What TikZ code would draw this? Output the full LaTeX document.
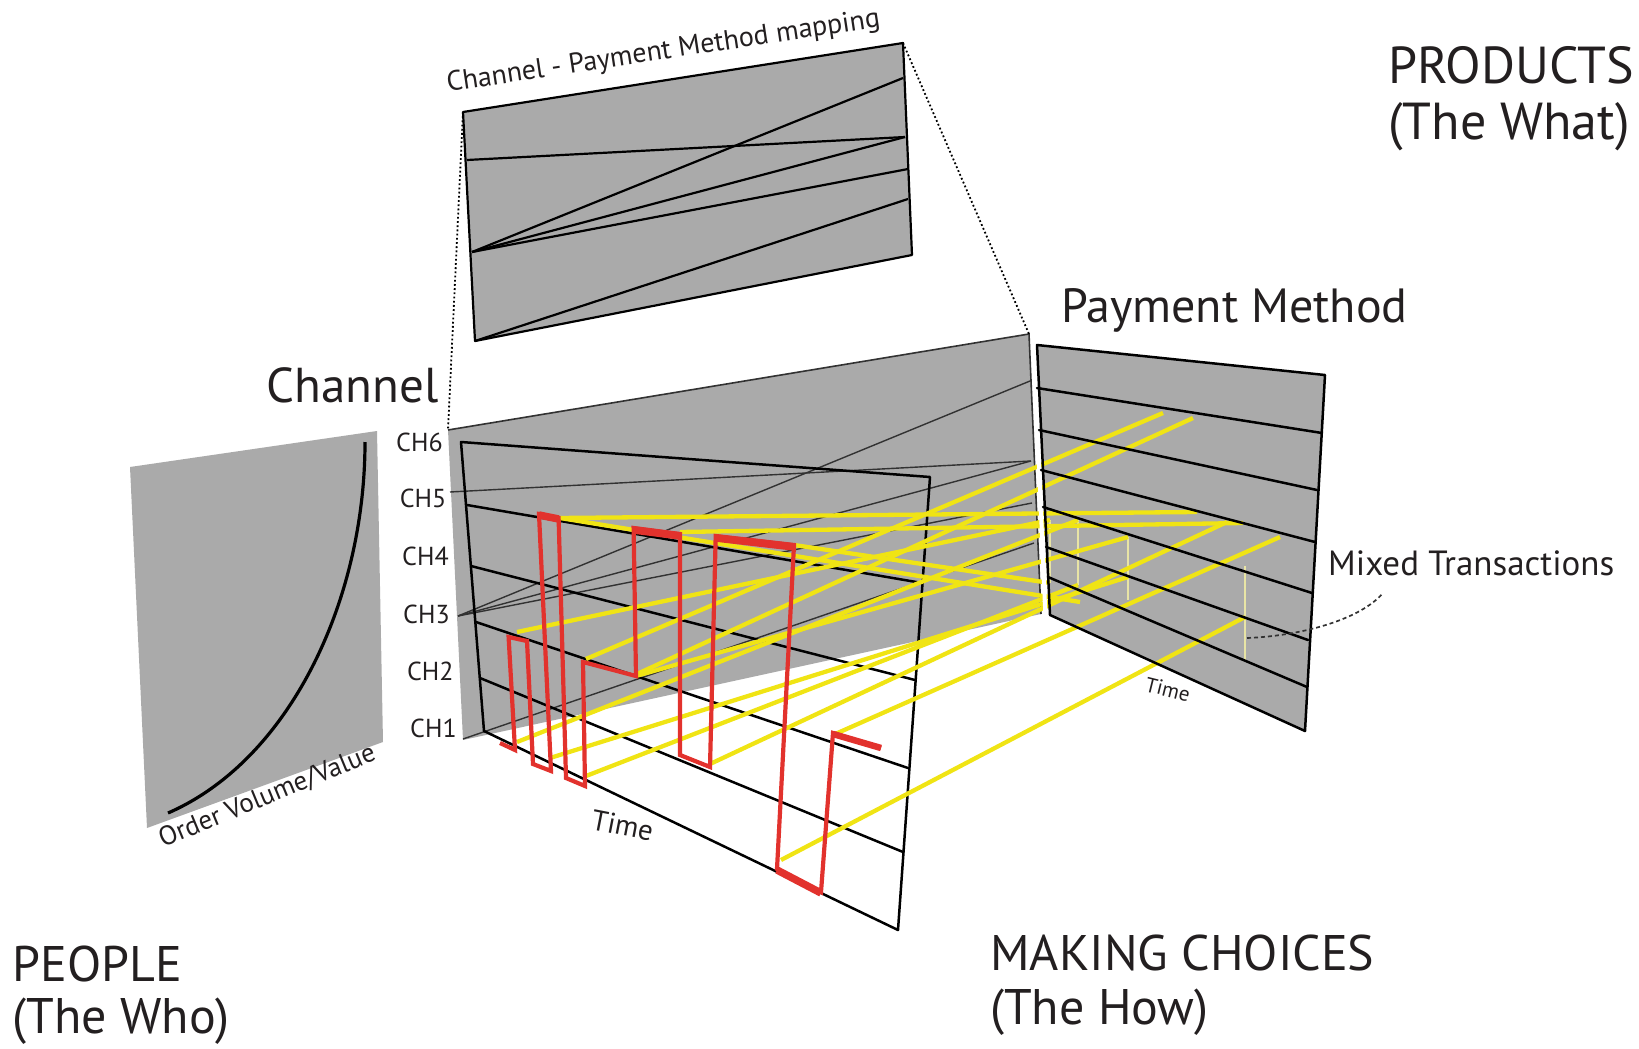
\documentclass[tikz,border=0pt]{standalone}
\usepackage{fontspec}
\setmainfont{PT Sans}
\definecolor{pg}{RGB}{170,170,170}
\definecolor{txt}{RGB}{35,31,32}
\definecolor{yel}{RGB}{240,228,20}
\definecolor{paley}{RGB}{232,228,165}
\definecolor{redc}{RGB}{226,50,45}
\definecolor{lk}{RGB}{50,50,50}
\begin{document}
\begin{tikzpicture}[x=1pt,y=-1pt,
  panel/.style={fill=pg,draw=none},
  edgeline/.style={draw=black,line width=2.5pt,line cap=round,line join=round},
  mapline/.style={draw=lk,line width=1.4pt},
  yline/.style={draw=yel,line width=4.3pt},
  paleline/.style={draw=paley,line width=2.2pt},
  redline/.style={draw=redc,line width=4.2pt,line join=miter},
  redtop/.style={draw=redc,line width=7.5pt},
  dotline/.style={draw=black,line width=1.8pt,dash pattern=on 1.8pt off 2.4pt},
  lbl/.style={text=txt,inner sep=0pt,anchor=base west},
  big/.style={lbl,font=\fontsize{52}{60}\selectfont},
  chl/.style={lbl,font=\fontsize{26}{30}\selectfont},
]
\useasboundingbox (0,0) rectangle (1639,1049);

% ---------- People panel ----------
\fill[pg] (130,467) -- (377,431) -- (383,742) -- (147,828) -- cycle;
\draw[black,line width=3.2pt] (168,813) .. controls (290,760) and (365,600) .. (365,442);

% ---------- Mapping panel ----------
\coordinate (mTL) at (463,112);
\coordinate (mTR) at (903,43);
\coordinate (mBR) at (912,255);
\coordinate (mBL) at (475,341);
\filldraw[fill=pg,draw=black,line width=2.2pt,line join=round] (mTL) -- (mTR) -- (mBR) -- (mBL) -- cycle;
\coordinate (ma) at (467,160);
\coordinate (mb) at (472,252);
\coordinate (r1) at (903,78);
\coordinate (r2) at (905,137);
\coordinate (r3) at (908,169);
\coordinate (r4) at (908,199);
\draw[black,line width=2.2pt] (ma) -- (r2);
\draw[black,line width=2.2pt] (mb) -- (r1);
\draw[black,line width=2.2pt] (mb) -- (r2);
\draw[black,line width=2.2pt] (mb) -- (r3);
\draw[black,line width=2.2pt] (mBL) -- (r4);

% ---------- Back plane ----------
\coordinate (bTL) at (448,430);
\coordinate (bTR) at (1029,334);
\coordinate (bBR) at (1041,614);
\coordinate (bBL) at (463,740);
\fill[pg] (bTL) -- (bTR) -- (bBR) -- (bBL) -- cycle;
\draw[lk,line width=1.6pt] (bTL) -- (bTR) -- (bBR);
\draw[dotline] (mTL) -- (bTL);
\draw[dotline] (mTR) -- (bTR);

% ---------- Payment method panel ----------
\coordinate (pTL) at (1037,345);
\coordinate (pTR) at (1325,375);
\coordinate (pBR) at (1305,731);
\coordinate (pBL) at (1050,615);
\fill[pg] (pTL) -- (pTR) -- (pBR) -- (pBL) -- cycle;

% mapping lines on back plane
\coordinate (c5) at (450,492);
\coordinate (c3) at (458,616);
\coordinate (c1) at (463,739);
\coordinate (b1) at (1030,381);
\coordinate (b2) at (1031,461);
\coordinate (b3) at (1032,503);
\coordinate (b4) at (1034,543);
\draw[mapline] (c5) -- (b2);
\draw[mapline] (c3) -- (b1);
\draw[mapline] (c3) -- (b2);
\draw[mapline] (c3) -- (b3);
\draw[mapline] (c1) -- (b4);

% ---------- Front (channel/time) panel ----------
\draw[edgeline] (484,731) -- (461,442) -- (930,477) -- (898,930) -- cycle;
\draw[edgeline] (467,505) -- (922,583);
\draw[edgeline] (471,566) -- (915,680);
\draw[edgeline] (476,622) -- (908,768);
\draw[edgeline] (480,678) -- (903,852);

% ---------- Pale "mixed" verticals ----------
\draw[paleline] (1050,520) -- (1050,583);
\draw[paleline] (1078,520) -- (1078,585);
\draw[paleline] (1128,537) -- (1128,600);
\draw[paleline] (1245,566) -- (1245,660);

% ---------- Yellow transaction lines ----------
\draw[yline] (558,518) -- (1197,512);
\draw[yline] (560,518) -- (1080,602);
\draw[yline] (680,532) -- (1243,523);
\draw[yline] (794,545) -- (1050,583);
\draw[yline] (517,632) -- (1050,520);
\draw[yline] (586,659) -- (1163,413);
\draw[yline] (637,674) -- (1193,418);
\draw[yline] (636,676) -- (1128,537);
\draw[yline] (517,742) -- (1078,520);
\draw[yline] (550,758) -- (1128,577);
\draw[yline] (586,776) -- (1078,585);
\draw[yline] (710,764) -- (1227,522);
\draw[yline] (833,735) -- (1280,537);
\draw[yline] (781,860) -- (1245,617);

% white gap and PM panel lines (over yellow)
\draw[white,line width=4pt] (1033.5,338) -- (1045.5,618);
\draw[edgeline] (pTL) -- (pTR) -- (pBR) -- (pBL) -- cycle;
\draw[edgeline] (1037,388) -- (1322,433);
\draw[edgeline] (1039,430) -- (1317,490);
\draw[edgeline] (1041,470) -- (1315,542);
\draw[edgeline] (1043,507) -- (1312,593);
\draw[edgeline] (1046,547) -- (1308,640);
\draw[edgeline] (1048,577) -- (1307,687);

% ---------- Red signal ----------
\draw[redline] (500,743) -- (515,750) -- (508.6,637) -- (527,641) -- (533,764) -- (551,771)
  -- (539,514) -- (558.6,518) -- (566,778) -- (585,786) -- (583,662) -- (636,676)
  -- (633.6,528) -- (680,534) -- (680,755) -- (710,767) -- (715.7,536) -- (794,545)
  -- (777,869) -- (821,892) -- (833,733) -- (881,748);
\draw[redtop] (539,515) -- (558.6,519);
\draw[redtop] (633.6,530) -- (680,536);
\draw[redtop] (715.7,538) -- (794,547);
\draw[redtop] (777,870) -- (821,893);
\draw[redline,line width=6.5pt] (833,734) -- (881,748);

% dotted pointer
\draw[draw=lk,line width=1.7pt,dash pattern=on 4pt off 3pt] (1247,638) .. controls (1300,636) and (1360,620) .. (1383,593);

% ---------- Texts ----------
\node[big] (products) at (1388,83.6) {PRODUCTS};
\node[big] (what) at (1388,139) {(The What)};
\node[big,font=\fontsize{50}{58}\selectfont] (people) at (12.5,981) {PEOPLE};
\node[big,font=\fontsize{50}{58}\selectfont] (who) at (12.5,1033) {(The Who)};
\node[big,font=\fontsize{50}{58}\selectfont] (making) at (990,970) {MAKING CHOICES};
\node[big,font=\fontsize{50}{58}\selectfont] (how) at (990,1024) {(The How)};
\node[lbl,font=\fontsize{49}{56}\selectfont] (channel) at (266.6,402.5) {Channel};
\node[lbl,font=\fontsize{48}{56}\selectfont] (pmt) at (1061,322) {Payment Method};
\node[lbl,font=\fontsize{35}{40}\selectfont] (mixed) at (1328,575) {Mixed Transactions};
\node[chl] (ch6) at (396,451.8) {CH6};
\node[chl] (ch5) at (399.6,507) {CH5};
\node[chl] (ch4) at (402,565) {CH4};
\node[chl] (ch3) at (403,623) {CH3};
\node[chl] (ch2) at (406.8,680) {CH2};
\node[chl] (ch1) at (410,737.5) {CH1};
\node[lbl,font=\fontsize{29}{32}\selectfont,rotate=-11] (time1) at (590,829) {Time};
\node[lbl,font=\fontsize{21}{25}\selectfont,rotate=-14] (time2) at (1144,691) {Time};
\node[lbl,font=\fontsize{27}{30}\selectfont,rotate=22.5] (ovv) at (163,848) {Order Volume/Value};
\node[lbl,font=\fontsize{28}{32}\selectfont,rotate=8.6] (maptitle) at (448,92) {Channel - Payment Method mapping};
\end{tikzpicture}
\end{document}
